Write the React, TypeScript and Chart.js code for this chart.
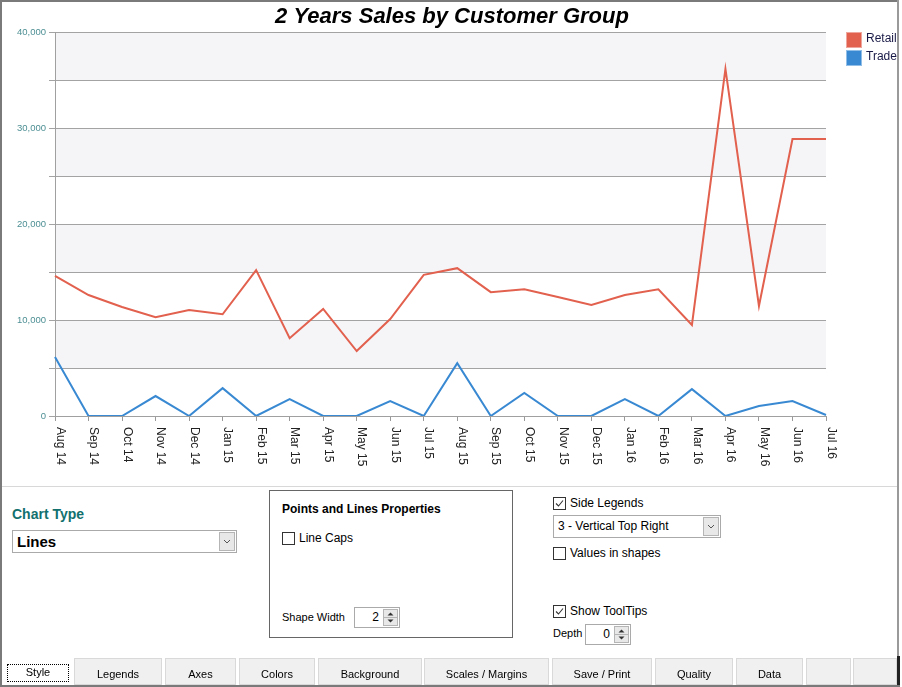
import React, { useEffect, useRef } from "react";
import { Chart, registerables } from "chart.js";

Chart.register(...registerables);

const months = [
  "Aug 14", "Sep 14", "Oct 14", "Nov 14", "Dec 14", "Jan 15", "Feb 15", "Mar 15",
  "Apr 15", "May 15", "Jun 15", "Jul 15", "Aug 15", "Sep 15", "Oct 15", "Nov 15",
  "Dec 15", "Jan 16", "Feb 16", "Mar 16", "Apr 16", "May 16", "Jun 16", "Jul 16",
];
const retail = [
  14600, 12600, 11350, 10300, 11050, 10600, 15200, 8100, 11150, 6770, 10100, 14700,
  15400, 12900, 13200, 12400, 11560, 12600, 13200, 9480, 36150, 11460, 28850, 28850,
];
const trade = [
  6150, 0, 0, 2080, 0, 2900, 0, 1770, 0, 0, 1560, 0,
  5500, 0, 2400, 0, 0, 1770, 0, 2800, 0, 1040, 1560, 100,
];
const seriesNames = ["Retail", "Trade"];
const seriesColors = ["#e2604e", "#3889d2"];
const chartTitle = "2 Years Sales by Customer Group";
const yMax = 40000;
const yStep = 5000;
const yLabelStep = 10000;

const tabs = [
  { label: "Style", x: 5, w: 66 },
  { label: "Legends", x: 74, w: 88 },
  { label: "Axes", x: 165, w: 71 },
  { label: "Colors", x: 239, w: 76 },
  { label: "Background", x: 318, w: 104 },
  { label: "Scales / Margins", x: 424, w: 125 },
  { label: "Save / Print", x: 552, w: 100 },
  { label: "Quality", x: 655, w: 78 },
  { label: "Data", x: 736, w: 67 },
  { label: "", x: 806, w: 45 },
  { label: "", x: 853, w: 44 },
];

const chartPlugin = {
  id: "customDecor",
  beforeDraw(chart: any) {
    const { ctx, chartArea } = chart;
    const y = chart.scales.y;
    ctx.save();
    for (let v = 0; v < yMax; v += yStep) {
      const band = v / yStep;
      if (band % 2 === 1) {
        const top = y.getPixelForValue(v + yStep);
        const bot = y.getPixelForValue(v);
        ctx.fillStyle = "#f5f5f8";
        ctx.fillRect(chartArea.left, top, chartArea.right - chartArea.left, bot - top);
      }
    }
    ctx.restore();
  },
  afterDraw(chart: any) {
    const { ctx } = chart;
    const x = chart.scales.x;
    ctx.save();
    // title
    ctx.fillStyle = "#000";
    ctx.font = "bold italic 22px Arial, 'Liberation Sans', sans-serif";
    ctx.textAlign = "center";
    ctx.textBaseline = "middle";
    ctx.fillText(chartTitle, 452, 17);
    // x labels rotated clockwise
    ctx.font = "12px Arial, 'Liberation Sans', sans-serif";
    ctx.fillStyle = "#222";
    ctx.textAlign = "left";
    ctx.textBaseline = "middle";
    months.forEach((m, i) => {
      const px = x.getPixelForValue(i);
      ctx.save();
      ctx.translate(px + 5, 427);
      ctx.rotate(Math.PI / 2);
      ctx.fillText(m, 0, 0);
      ctx.restore();
    });
    // legend
    ctx.font = "12px Arial, 'Liberation Sans', sans-serif";
    seriesNames.forEach((n, i) => {
      const ly = 32 + i * 18;
      ctx.fillStyle = seriesColors[i];
      ctx.fillRect(846, ly, 16, 16);
      ctx.strokeStyle = "rgba(255,255,255,0.45)";
      ctx.lineWidth = 1;
      ctx.strokeRect(846.5, ly + 0.5, 15, 15);
      ctx.fillStyle = "#1a1a48";
      ctx.textAlign = "left";
      ctx.textBaseline = "middle";
      ctx.fillText(n, 866, ly + 7);
    });
    ctx.restore();
  },
};

function ChartCanvas() {
  const ref = useRef<HTMLCanvasElement | null>(null);
  useEffect(() => {
    if (!ref.current) return;
    const chart = new Chart(ref.current, {
      type: "line",
      data: {
        labels: months,
        datasets: [
          {
            label: seriesNames[0],
            data: retail,
            borderColor: seriesColors[0],
            backgroundColor: seriesColors[0],
            borderWidth: 2,
            pointRadius: 0,
            tension: 0,
          },
          {
            label: seriesNames[1],
            data: trade,
            borderColor: seriesColors[1],
            backgroundColor: seriesColors[1],
            borderWidth: 2,
            pointRadius: 0,
            tension: 0,
          },
        ],
      },
      options: {
        animation: false,
        responsive: false,
        maintainAspectRatio: false,
        layout: { padding: { top: 32, right: 76, left: 0, bottom: 0 } },
        plugins: {
          legend: { display: false },
          title: { display: false },
          tooltip: { enabled: false },
        },
        scales: {
          x: {
            offset: false,
            grid: {
              display: true,
              drawOnChartArea: false,
              drawTicks: true,
              tickLength: 5,
              color: "#999",
            },
            border: { display: true, color: "#a0a0a0" },
            ticks: { display: false, autoSkip: false },
            afterFit(scale: any) {
              scale.height = 70;
            },
          },
          y: {
            min: 0,
            max: yMax,
            grid: {
              color: "#a3a3a3",
              lineWidth: 1,
              tickLength: 6,
              drawTicks: true,
            },
            border: { display: true, color: "#a0a0a0" },
            ticks: {
              stepSize: yStep,
              padding: 3,
              color: "#4d8f94",
              font: { size: 9.5, family: "Arial, 'Liberation Sans', sans-serif" },
              callback: (v: any) =>
                Number(v) % yLabelStep === 0 ? Number(v).toLocaleString("en-US") : "",
            },
            afterFit(scale: any) {
              scale.width = 55;
            },
          },
        },
      },
      plugins: [chartPlugin],
    });
    return () => chart.destroy();
  }, []);
  return (
    <canvas
      ref={ref}
      width={902}
      height={486}
      style={{ position: "absolute", left: 0, top: 0, width: 902, height: 486 }}
    />
  );
}

function CheckBox({ x, y, checked, label }: { x: number; y: number; checked: boolean; label: string }) {
  return (
    <div style={{ position: "absolute", left: x, top: y, height: 14, display: "flex", alignItems: "center" }}>
      <div
        style={{
          width: 11,
          height: 11,
          border: "1px solid #333",
          background: "#fff",
          position: "relative",
        }}
      >
        {checked && (
          <svg width={11} height={11} style={{ position: "absolute", left: 0, top: 0 }}>
            <polyline points="2,5.5 4.5,8 9,2.5" fill="none" stroke="#333" strokeWidth={1.1} />
          </svg>
        )}
      </div>
      <span style={{ marginLeft: 4, fontSize: 12, color: "#000" }}>{label}</span>
    </div>
  );
}

function SelectBox({ x, y, w, h, text, bold, size }: any) {
  return (
    <div
      style={{
        position: "absolute",
        left: x,
        top: y,
        width: w,
        height: h,
        border: "1px solid #aaa",
        boxSizing: "border-box",
        background: "#fff",
      }}
    >
      <span
        style={{
          position: "absolute",
          left: 4,
          top: 0,
          lineHeight: h - 2 + "px",
          fontSize: size,
          fontWeight: bold ? "bold" : "normal",
          color: "#000",
        }}
      >
        {text}
      </span>
      <div
        style={{
          position: "absolute",
          right: 1,
          top: 1,
          width: 16,
          height: h - 4,
          background: "#e8e8e8",
          border: "1px solid #b5b5b5",
          boxSizing: "border-box",
        }}
      >
        <svg width={14} height={h - 6} style={{ position: "absolute", left: 0, top: 0 }}>
          <polyline
            points={`4,${(h - 6) / 2 - 1.5} 7,${(h - 6) / 2 + 1.5} 10,${(h - 6) / 2 - 1.5}`}
            fill="none"
            stroke="#555"
            strokeWidth={1}
          />
        </svg>
      </div>
    </div>
  );
}

function Spinner({ x, y, value }: { x: number; y: number; value: string }) {
  return (
    <div
      style={{
        position: "absolute",
        left: x,
        top: y,
        width: 46,
        height: 21,
        border: "1px solid #aaa",
        boxSizing: "border-box",
        background: "#fff",
      }}
    >
      <span style={{ position: "absolute", right: 20, top: 2, fontSize: 12 }}>{value}</span>
      <div
        style={{
          position: "absolute",
          right: 1,
          top: 1,
          width: 15,
          height: 17,
          background: "#e8e8e8",
          border: "1px solid #b5b5b5",
          boxSizing: "border-box",
        }}
      >
        <svg width={13} height={15} style={{ position: "absolute", left: 0, top: 0 }}>
          <polygon points="3.5,5.5 6.5,2.5 9.5,5.5" fill="#333" />
          <line x1={0} y1={7.5} x2={13} y2={7.5} stroke="#b5b5b5" />
          <polygon points="3.5,9.5 6.5,12.5 9.5,9.5" fill="#333" />
        </svg>
      </div>
    </div>
  );
}

export default function App() {
  return (
    <div
      style={{
        position: "fixed",
        left: 0,
        top: 0,
        width: 902,
        height: 687,
        background: "#fff",
        fontFamily: "Arial, 'Liberation Sans', sans-serif",
        overflow: "hidden",
      }}
    >
      <ChartCanvas />
      {/* frame */}
      <div style={{ position: "absolute", left: 0, top: 0, width: 2, height: 687, background: "#7a7a7a" }} />
      <div style={{ position: "absolute", left: 0, top: 0, width: 899, height: 2, background: "#7a7a7a" }} />
      <div style={{ position: "absolute", left: 897, top: 0, width: 2, height: 658, background: "#9a9a9a" }} />
      <div style={{ position: "absolute", left: 897, top: 656, width: 3, height: 31, background: "#222" }} />
      <div style={{ position: "absolute", left: 0, top: 685, width: 900, height: 2, background: "#7a7a7a" }} />
      {/* separator */}
      <div style={{ position: "absolute", left: 2, top: 486, width: 895, height: 1, background: "#d8d8d8" }} />

      {/* Chart Type */}
      <div style={{ position: "absolute", left: 12, top: 506, fontSize: 14, fontWeight: "bold", color: "#12706e" }}>
        Chart Type
      </div>
      <SelectBox x={12} y={530} w={225} h={23} text="Lines" bold size={15} />

      {/* group box */}
      <div
        style={{
          position: "absolute",
          left: 269,
          top: 490,
          width: 244,
          height: 148,
          border: "1px solid #666",
          boxSizing: "border-box",
        }}
      />
      <div style={{ position: "absolute", left: 282, top: 502, fontSize: 12, fontWeight: "bold", color: "#000" }}>
        Points and Lines Properties
      </div>
      <CheckBox x={282} y={531} checked={false} label="Line Caps" />
      <div style={{ position: "absolute", left: 282, top: 611, fontSize: 11, color: "#000" }}>Shape Width</div>
      <Spinner x={354} y={607} value="2" />

      {/* right side */}
      <CheckBox x={553} y={496} checked={true} label="Side Legends" />
      <SelectBox x={553} y={515} w={168} h={23} text="3 - Vertical Top Right" bold={false} size={12} />
      <CheckBox x={553} y={546} checked={false} label="Values in shapes" />
      <CheckBox x={553} y={604} checked={true} label="Show ToolTips" />
      <div style={{ position: "absolute", left: 553, top: 627, fontSize: 11, color: "#000" }}>Depth</div>
      <Spinner x={585} y={624} value="0" />

      {/* tabs */}
      {tabs.map((t, i) => (
        <div
          key={i}
          style={{
            position: "absolute",
            left: t.x,
            top: i === 0 ? 660 : 658,
            width: t.w,
            height: i === 0 ? 25 : 27,
            background: i === 0 ? "#fff" : "#f0f0f0",
            border: i === 0 ? "none" : "1px solid #d9d9d9",
            boxSizing: "border-box",
            fontSize: 11,
            color: "#000",
            textAlign: "center",
            lineHeight: i === 0 ? "24px" : "30px",
          }}
        >
          {i === 0 ? (
            <div
              style={{
                position: "absolute",
                left: 2,
                top: 4,
                width: t.w - 4,
                height: 18,
                border: "1px dotted #000",
                boxSizing: "border-box",
                lineHeight: "14px",
              }}
            >
              {t.label}
            </div>
          ) : (
            t.label
          )}
        </div>
      ))}
    </div>
  );
}
